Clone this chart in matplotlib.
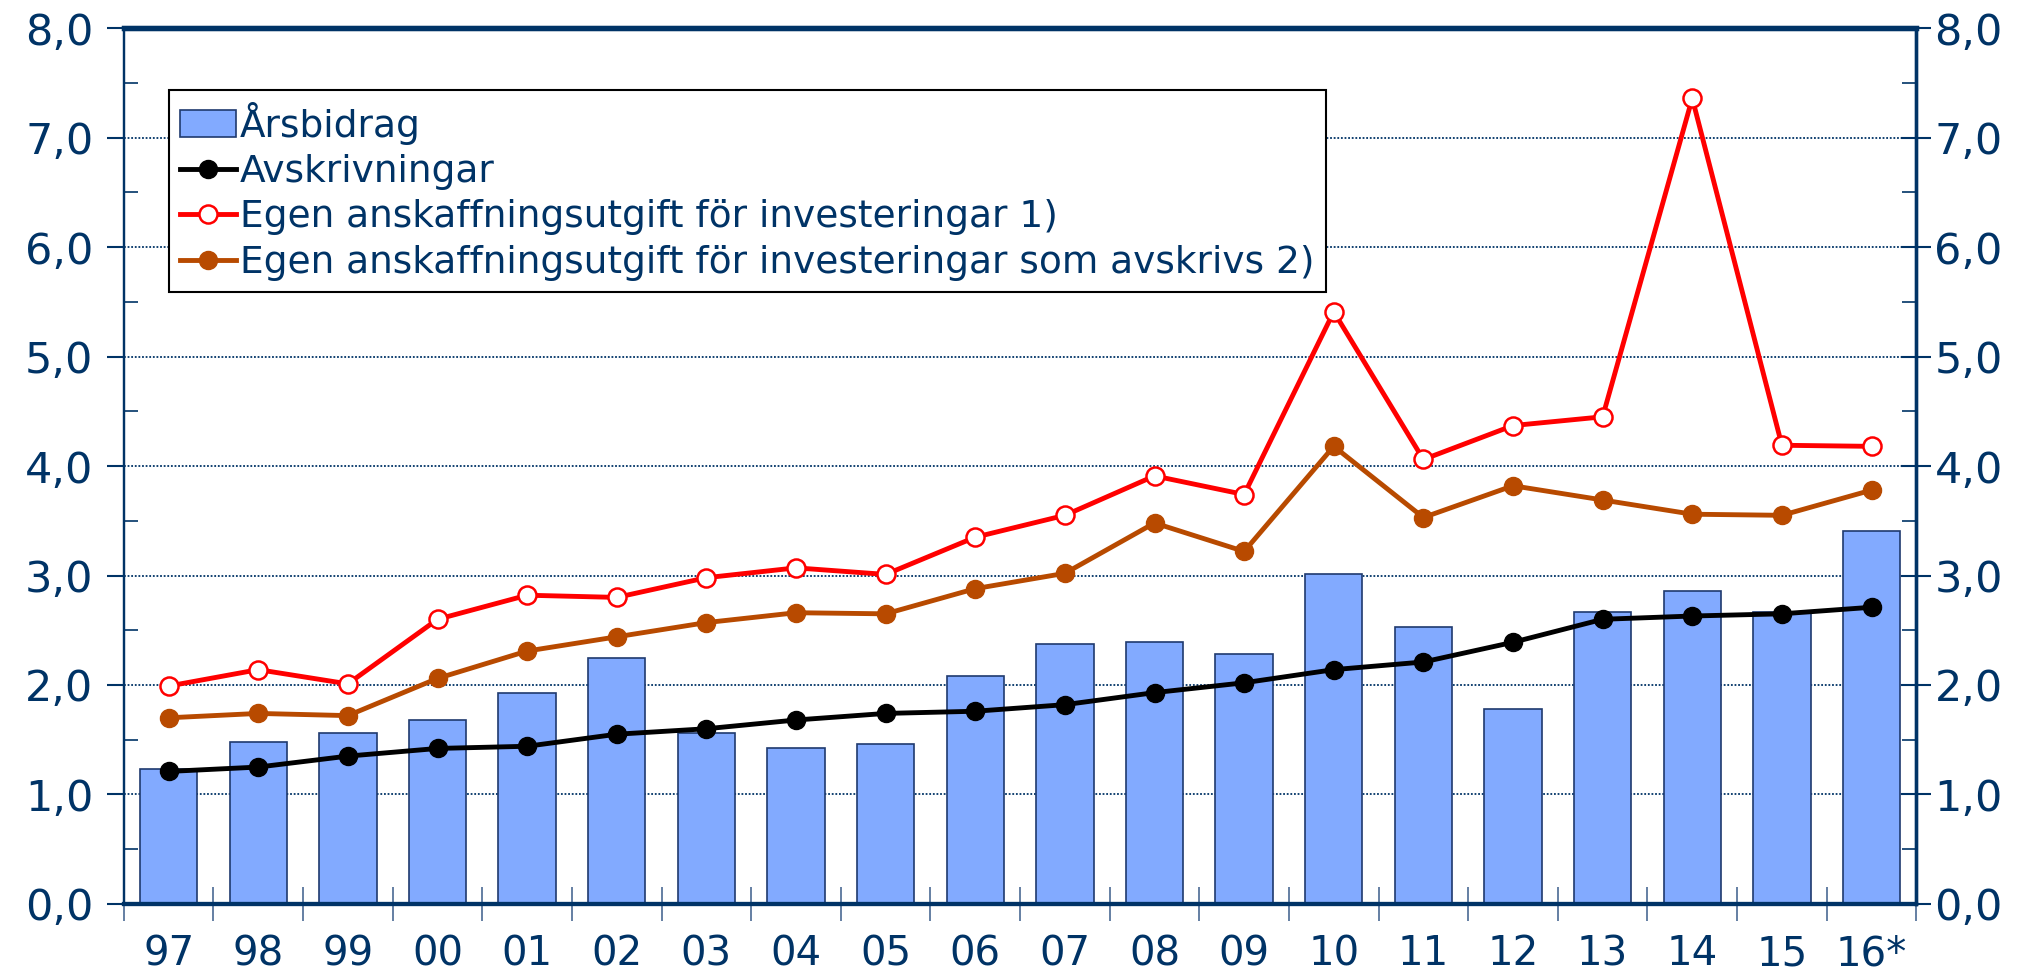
import matplotlib
matplotlib.use("Agg")
import matplotlib.pyplot as plt
import numpy as np

# values (mdr kr)
years = ["97", "98", "99", "00", "01", "02", "03", "04", "05", "06",
         "07", "08", "09", "10", "11", "12", "13", "14", "15", "16*"]
arsbidrag = [1.23, 1.48, 1.56, 1.68, 1.93, 2.25, 1.56, 1.42, 1.46, 2.08,
             2.37, 2.39, 2.28, 3.01, 2.53, 1.78, 2.67, 2.86, 2.67, 3.41]
avskrivningar = [1.21, 1.25, 1.35, 1.42, 1.44, 1.55, 1.60, 1.68, 1.74, 1.76,
                 1.82, 1.93, 2.02, 2.14, 2.21, 2.39, 2.60, 2.63, 2.65, 2.71]
investeringar = [1.99, 2.14, 2.01, 2.60, 2.82, 2.80, 2.98, 3.07, 3.01, 3.35,
                 3.55, 3.91, 3.74, 5.41, 4.06, 4.37, 4.45, 7.36, 4.19, 4.18]
inv_avskrivs = [1.70, 1.74, 1.72, 2.06, 2.31, 2.44, 2.57, 2.66, 2.65, 2.88,
                3.02, 3.48, 3.22, 4.18, 3.53, 3.82, 3.69, 3.56, 3.55, 3.78]

navy = "#003366"
plt.rcParams["font.family"] = ["DejaVu Sans"]

fig = plt.figure(figsize=(20.3, 9.74), dpi=100)
ax = fig.add_axes([0.061, 0.072, 0.883, 0.899])
x = np.arange(len(years))

b = ax.bar(x, arsbidrag, width=0.64, color="#82aaff", edgecolor="#1f3a6e",
           linewidth=1.2, label="Årsbidrag", zorder=2)
l1, = ax.plot(x, avskrivningar, color="black", lw=3.5, marker="o", ms=13,
              label="Avskrivningar", zorder=4)
l2, = ax.plot(x, investeringar, color="#ff0000", lw=3.5, marker="o", ms=13,
              mfc="white", mec="#ff0000", mew=1.8,
              label="Egen anskaffningsutgift för investeringar 1)", zorder=4)
l3, = ax.plot(x, inv_avskrivs, color="#b84a00", lw=3.5, marker="o", ms=13,
              label="Egen anskaffningsutgift för investeringar som avskrivs 2)",
              zorder=3)

ax.set_xlim(-0.5, len(years) - 0.5)
ax.set_ylim(0, 8)
ax.set_axisbelow(True)
ax.yaxis.grid(True, which="major", linestyle=(0, (1, 1)), color=navy, lw=1.3)

yt = np.arange(0, 9)
ylabels = [f"{v:.1f}".replace(".", ",") for v in yt]
ax.set_yticks(yt)
ax.set_yticklabels(ylabels)
ax.set_yticks(np.arange(0.5, 8, 1), minor=True)
ax.tick_params(axis="y", which="major", direction="out", length=12, width=1.5,
               colors=navy, labelsize=31, pad=10)
ax.tick_params(axis="y", which="minor", direction="in", length=10, width=1.2,
               colors=navy)

ax.set_xticks(np.arange(-0.5, len(years), 1))
ax.set_xticklabels([])
ax.set_xticks(x, minor=True)
ax.set_xticklabels(years, minor=True)
ax.tick_params(axis="x", which="major", direction="inout", length=24, width=1.2,
               colors="#4a6a94")
ax.tick_params(axis="x", which="minor", length=0, labelsize=29, pad=22,
               labelcolor=navy)

ax2 = ax.twinx()
ax2.set_ylim(0, 8)
ax2.set_yticks(yt)
ax2.set_yticklabels(ylabels)
ax2.set_yticks(np.arange(0.5, 8, 1), minor=True)
ax2.tick_params(axis="y", which="major", direction="inout", length=22, width=1.5,
                colors=navy, labelsize=31, pad=2)
ax2.tick_params(axis="y", which="minor", direction="in", length=10, width=1.2,
                colors=navy)

for a in (ax, ax2):
    a.spines["top"].set_linewidth(3.8)
    a.spines["left"].set_linewidth(1.6)
    a.spines["right"].set_linewidth(2.4)
    a.spines["bottom"].set_linewidth(3.0)
    for s in a.spines.values():
        s.set_color(navy)

leg = ax2.legend([b, l1, l2, l3], [h.get_label() for h in (b, l1, l2, l3)],
                 loc="upper left", bbox_to_anchor=(0.025, 0.929), fontsize=27,
                 frameon=True, fancybox=False, edgecolor="black", framealpha=1,
                 handlelength=1.5, handletextpad=0.1, borderpad=0.3,
                 labelspacing=0.25, borderaxespad=0)
leg.get_frame().set_linewidth(1.5)
for t in leg.get_texts():
    t.set_color(navy)

fig.savefig("out.png", dpi=100)
